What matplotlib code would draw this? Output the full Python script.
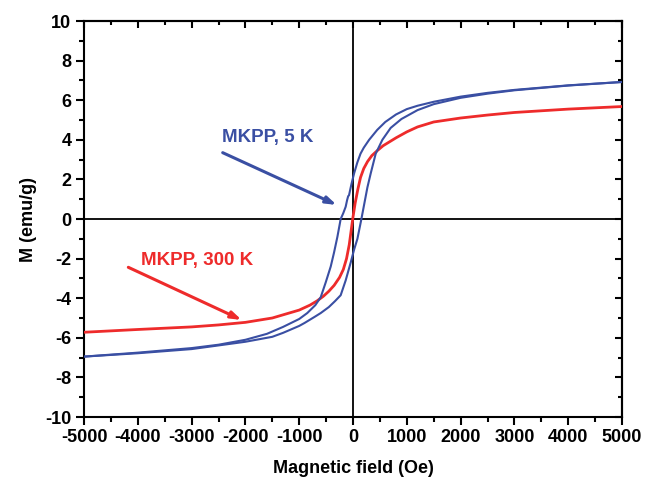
import matplotlib
matplotlib.use("Agg")
import matplotlib.pyplot as plt
from matplotlib.ticker import MultipleLocator

plt.rcParams['font.family'] = ['Liberation Sans', 'DejaVu Sans']
plt.rcParams['font.weight'] = 'bold'

# 5 K loop, descending branch (field from +5000 to -5000 Oe)
h_5k_down = [5000, 4000, 3000, 2500, 2000, 1500, 1200, 1000, 800, 600, 450, 300, 200, 140, 80, 20,
             -30, -74, -90, -110, -136, -180, -229, -290, -353, -414, -507, -600, -700, -850, -1000,
             -1300, -1600, -2000, -2500, -3000, -4000, -5000]
m_5k_down = [6.92, 6.75, 6.52, 6.37, 6.18, 5.92, 5.72, 5.55, 5.28, 4.90, 4.50, 4.00, 3.60, 3.30, 2.85, 2.30,
             1.75, 1.20, 1.15, 0.95, 0.62, 0.30, 0.00, -0.90, -1.70, -2.40, -3.20, -3.95, -4.35, -4.75, -5.05,
             -5.45, -5.80, -6.10, -6.35, -6.52, -6.75, -6.95]

# 5 K loop, ascending branch (field from -5000 to +5000 Oe)
h_5k_up = [-5000, -4000, -3000, -2000, -1500, -1300, -1000, -900, -706, -600, -450, -335, -229, -136, -43, 20, 82,
           156, 268, 329, 422, 546, 700, 900, 1200, 1500, 2000, 2500, 3000, 4000, 5000]
m_5k_up = [-6.95, -6.78, -6.57, -6.20, -5.95, -5.75, -5.40, -5.25, -4.93, -4.75, -4.45, -4.15, -3.85, -3.10, -2.20, -1.55, -1.00,
           0.00, 1.60, 2.30, 3.30, 4.00, 4.60, 5.05, 5.50, 5.80, 6.12, 6.33, 6.50, 6.74, 6.92]

# 300 K curve
h_300k = [-5000, -4000, -3000, -2500, -2000, -1500, -1250, -1000, -800, -670, -550, -450, -350, -250, -180, -120,
          -70, -30, 0, 40, 90, 140, 200, 270, 350, 450, 560, 680, 800, 1000, 1200, 1500, 2000, 2500, 3000, 4000, 5000]
m_300k = [-5.72, -5.58, -5.45, -5.35, -5.22, -5.00, -4.80, -4.60, -4.35, -4.14, -3.90, -3.65, -3.35, -2.95, -2.55, -2.00,
          -1.30, -0.50, 0.10, 0.80, 1.50, 2.10, 2.55, 2.90, 3.20, 3.45, 3.70, 3.90, 4.10, 4.40, 4.65, 4.90, 5.10, 5.25, 5.38, 5.55, 5.68]

label_5k = "MKPP, 5 K"
label_300k = "MKPP, 300 K"
x_ticks = [-5000, -4000, -3000, -2000, -1000, 0, 1000, 2000, 3000, 4000, 5000]
y_ticks = [-10, -8, -6, -4, -2, 0, 2, 4, 6, 8, 10]

blue = '#3a4fa3'
red = '#ee2b2b'

fig = plt.figure(figsize=(6.45, 4.82), dpi=100)
ax = fig.add_axes([84/645, 65/482, 538/645, 396/482])

ax.axhline(0, color='black', lw=1.3, zorder=1)
ax.axvline(0, color='black', lw=1.3, zorder=1)

ax.plot(h_300k, m_300k, color=red, lw=2.0, zorder=3)
ax.plot(h_5k_down, m_5k_down, color=blue, lw=1.5, zorder=4)
ax.plot(h_5k_up, m_5k_up, color=blue, lw=1.5, zorder=4)

ax.set_xlim(-5000, 5000)
ax.set_ylim(-10, 10)
ax.set_xticks(x_ticks)
ax.set_yticks(y_ticks)
ax.set_xticklabels([str(v) for v in x_ticks])
ax.set_yticklabels([str(v) for v in y_ticks])
ax.xaxis.set_minor_locator(MultipleLocator(500))
ax.yaxis.set_minor_locator(MultipleLocator(1))
ax.tick_params(which='major', direction='out', length=6, width=1.5, labelsize=13, pad=3)
ax.tick_params(which='minor', direction='out', length=3.5, width=1.5)
for s in ax.spines.values():
    s.set_linewidth(1.5)

secx = ax.secondary_xaxis('top')
secx.set_xticks(x_ticks)
secx.xaxis.set_minor_locator(MultipleLocator(500))
secx.tick_params(which='major', direction='in', length=5, width=1.5, labeltop=False)
secx.tick_params(which='minor', direction='in', length=3, width=1.5)
secx.spines['top'].set_linewidth(1.5)

secy = ax.secondary_yaxis('right')
secy.set_yticks(y_ticks)
secy.yaxis.set_minor_locator(MultipleLocator(1))
secy.tick_params(which='major', direction='in', length=5, width=1.5, labelright=False)
secy.tick_params(which='minor', direction='in', length=3, width=1.5)
secy.spines['right'].set_linewidth(1.5)

ax.set_xlabel("Magnetic field (Oe)", fontsize=13, fontweight='bold', labelpad=10)
ax.set_ylabel("M (emu/g)", fontsize=13, fontweight='bold', labelpad=6)

ax.annotate("", xy=(-303, 0.71), xytext=(-2422, 3.35),
            arrowprops=dict(arrowstyle='-|>,head_length=0.6,head_width=0.2', color=blue, lw=2.2,
                            shrinkA=0, shrinkB=0), zorder=5)
ax.text(-2435, 3.9, label_5k, color=blue, fontsize=13.5, fontweight='bold', ha='left', va='baseline')

ax.annotate("", xy=(-2069, -5.1), xytext=(-4176, -2.44),
            arrowprops=dict(arrowstyle='-|>,head_length=0.6,head_width=0.2', color=red, lw=2.2,
                            shrinkA=0, shrinkB=0), zorder=5)
ax.text(-3946, -2.32, label_300k, color=red, fontsize=13.5, fontweight='bold', ha='left', va='baseline')

fig.savefig("out.png", dpi=100)
